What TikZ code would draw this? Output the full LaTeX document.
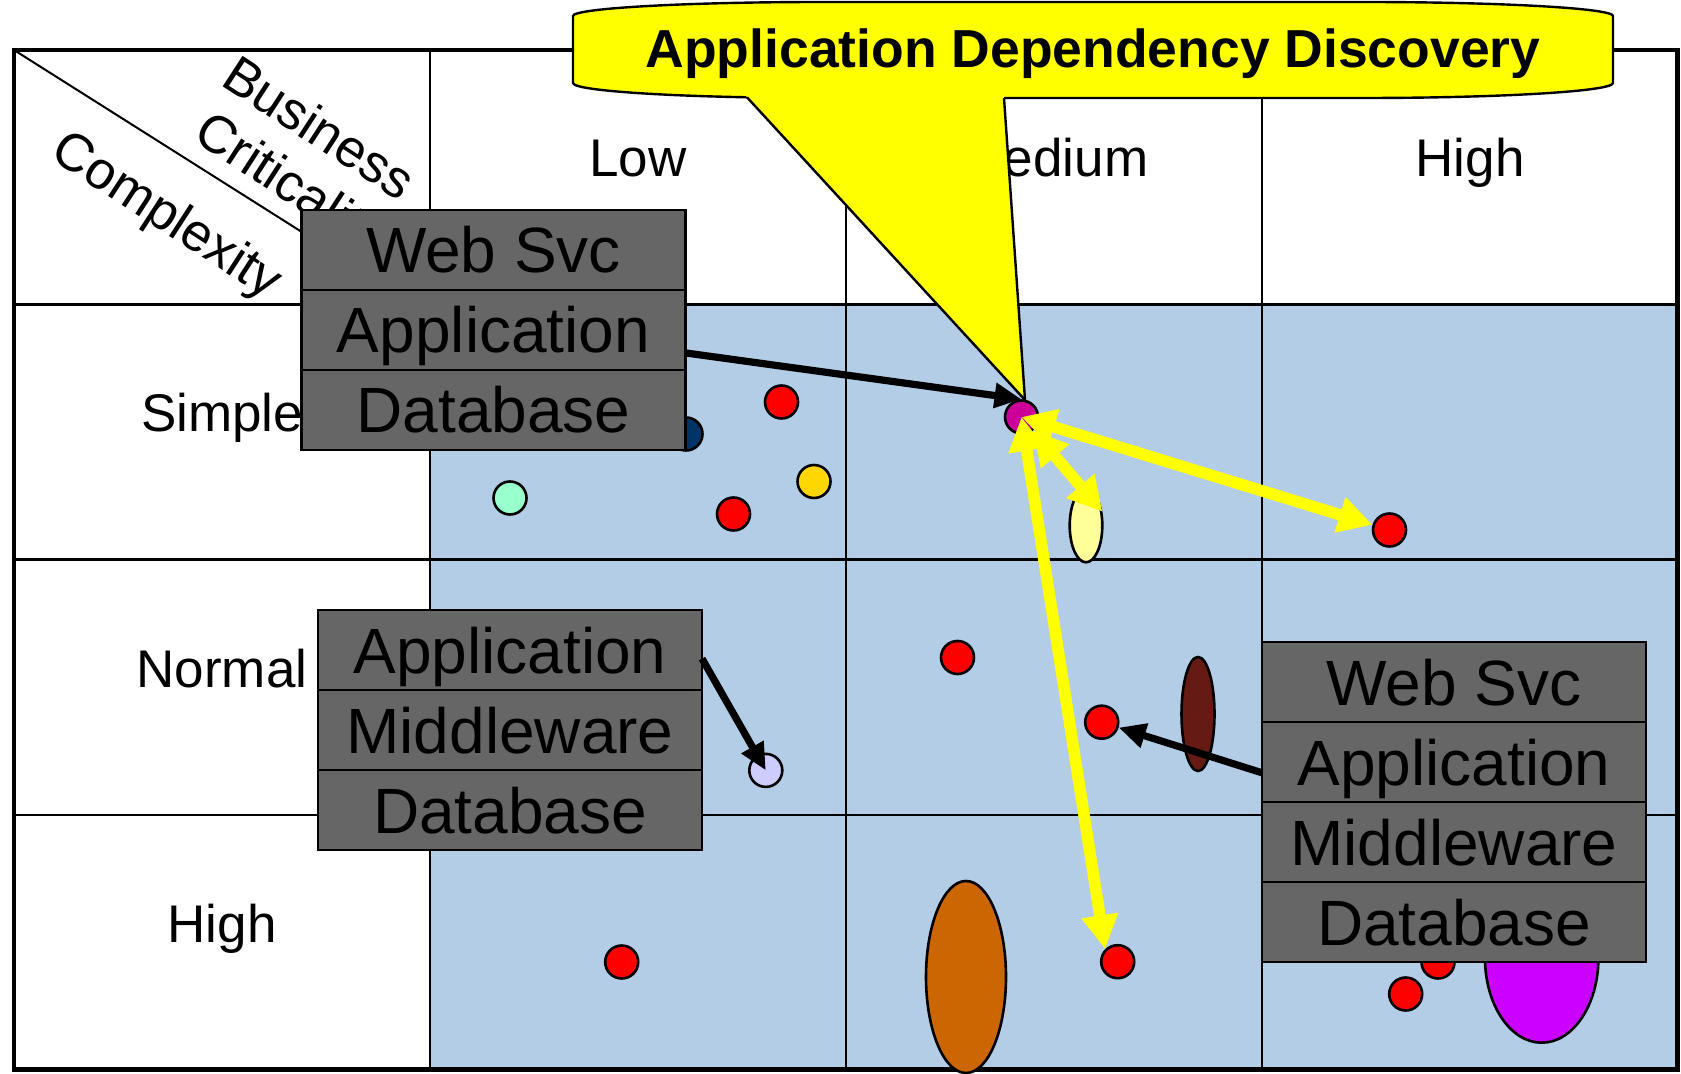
\documentclass[tikz,border=0pt]{standalone}
\usepackage{fontspec}
\setmainfont{Liberation Sans}
\usetikzlibrary{arrows.meta,shapes.geometric}
\definecolor{cellblue}{HTML}{B3CDE6}
\definecolor{boxgray}{HTML}{666666}
\definecolor{navydot}{HTML}{003366}
\definecolor{golddot}{HTML}{FFD700}
\definecolor{aquadot}{HTML}{99FFCC}
\definecolor{magdot}{HTML}{CC0099}
\definecolor{paleyel}{HTML}{FFFF99}
\definecolor{brownell}{HTML}{661A14}
\definecolor{lavdot}{HTML}{CCCCFF}
\definecolor{orangeell}{HTML}{CC6600}
\definecolor{purpell}{HTML}{CC00FF}
\definecolor{callyel}{HTML}{FFFF00}
\begin{document}
\begin{tikzpicture}[x=0.5pt,y=-0.5pt,
  gridline/.style={line width=1.3pt},
  frameline/.style={line width=2.3pt},
  lbl/.style={anchor=base, inner sep=0pt, font=\fontsize{26.5pt}{31pt}\selectfont},
  diag/.style={inner sep=0pt, rotate=-33, font=\fontsize{26.5pt}{31pt}\selectfont},
  layerbox/.style={draw=black, line width=1.2pt, fill=boxgray, minimum width=192pt, minimum height=40pt, inner sep=0pt, text height=23pt, text depth=0pt, font=\fontsize{32pt}{38pt}\selectfont},
  ball/.style={circle, draw=black, line width=1.3pt, minimum size=16.5pt, inner sep=0pt},
  blob/.style={ellipse, draw=black, line width=1.3pt, inner sep=0pt},
  barrow/.style={line width=3.6pt, -{Triangle[length=13.5pt,width=12pt]}},
  yarrow/.style={draw=callyel, line width=5.8pt, {Triangle[length=17pt,width=17.5pt]}-{Triangle[length=17pt,width=17.5pt]}},
  callout/.style={fill=callyel},
]
\fill[white] (0,0) rectangle (1681,1074);
\useasboundingbox (0,0) rectangle (1681,1074);

% cells
\fill[cellblue] (430,304.5) rectangle (1677.5,1069.5);
\draw[gridline] (430,50) -- (430,1069.5);
\draw[gridline] (846,50) -- (846,1069.5);
\draw[gridline] (1262,50) -- (1262,1069.5);
\draw[gridline] (14,304.5) -- (1677.5,304.5);
\draw[gridline] (14,559.6) -- (1677.5,559.6);
\draw[gridline] (14,814.8) -- (1677.5,814.8);
\draw[frameline] (14,50) rectangle (1677.5,1069.5);
\draw[line width=1pt] (14,50) -- (430,313);

% labels
\node[lbl] (cLow) at (638,177) {Low};
\node[lbl] (cMed) at (1054,177) {Medium};
\node[lbl] (cHigh) at (1470,177) {High};
\node[lbl] (rSimple) at (222,432) {Simple};
\node[lbl] (rNormal) at (222,687) {Normal};
\node[lbl] (rHigh) at (222,942) {High};
\node[diag] (tBus) at (319.8,127.3) {Business};
\node[diag] (tCrit) at (289,187) {Criticality};
\node[diag] (tCplx) at (165.7,217.3) {Complexity};

% dots
\node[ball, fill=navydot] (dNavy) at (686,434) {};
\node[ball, fill=red] (dR1) at (781.5,402) {};
\node[ball, fill=golddot] (dGold) at (814,481.5) {};
\node[ball, fill=aquadot] (dAqua) at (510,498) {};
\node[ball, fill=red] (dR2) at (733.5,514) {};
\node[ball, fill=magdot] (mag) at (1021.5,417) {};
\node[blob, fill=paleyel, minimum width=16.3pt, minimum height=36.8pt] (ly) at (1086,525.5) {};
\node[ball, fill=red] (r8) at (1389.5,530) {};
\node[ball, fill=red] (dR4) at (957.5,657.5) {};
\node[ball, fill=red] (r10) at (1101.7,722.2) {};
\node[blob, fill=brownell, minimum width=16.5pt, minimum height=57pt] (dBrown) at (1198,714) {};
\node[ball, fill=lavdot] (lav) at (765.8,770.4) {};
\node[ball, fill=red] (dR6) at (621.7,962) {};
\node[blob, fill=orangeell, minimum width=40pt, minimum height=96pt] (dOrange) at (966,977) {};
\node[ball, fill=red] (r15) at (1117.7,961.7) {};
\node[ball, fill=red] (dR8) at (1438,962) {};
\node[ball, fill=red] (dR9) at (1405.7,994) {};
\node[blob, fill=purpell, minimum width=56.7pt, minimum height=84.7pt] (dPurple) at (1541.7,958) {};

% stacks
\node[layerbox] (b1web) at (493.5,250) {Web Svc};
\node[layerbox] (b1app) at (493.5,330) {Application};
\node[layerbox] (b1db) at (493.5,410) {Database};
\node[layerbox] (b2app) at (510,650) {Application};
\node[layerbox] (b2mid) at (510,730) {Middleware};
\node[layerbox] (b2db) at (510,810) {Database};
\node[layerbox] (b3web) at (1454,682) {Web Svc};
\node[layerbox] (b3app) at (1454,762) {Application};
\node[layerbox] (b3mid) at (1454,842) {Middleware};
\node[layerbox] (b3db) at (1454,922) {Database};

% black arrows
\coordinate (a1s) at (686,353);
\coordinate (a2s) at (702,658.6);
\coordinate (a3s) at (1262,772.8);
\draw[barrow] (a2s) -- (lav.center);
\draw[barrow] (a3s) -- (r10);

% yellow arrows
\draw[yarrow] (mag.center) -- (r8);
\draw[yarrow] (mag) -- (ly.40);
\draw[yarrow] (mag.center) -- (r15.north west);

% callout
\path[callout, draw=black, line width=1.2pt] (573,16) -- (573,83) .. controls (573,91.3) and (685,98) .. (823,98) -- (1363,98) .. controls (1501,98) and (1613,91.3) .. (1613,83) -- (1613,16) .. controls (1613,8.3) and (1501,2) .. (1363,2) -- (823,2) .. controls (685,2) and (573,8.3) .. cycle;
\fill[callout] (740.3,90) -- (1003.4,90) -- (1025,400) -- cycle;
\draw[line width=1.2pt] (747,97.3) -- (1025,400) -- (1004,98);
\node[anchor=base, inner sep=0pt, font=\bfseries\fontsize{26.75pt}{32pt}\selectfont] (title) at (1093,68) {Application Dependency Discovery};

\draw[barrow] (a1s) -- (mag.north);
\end{tikzpicture}
\end{document}
